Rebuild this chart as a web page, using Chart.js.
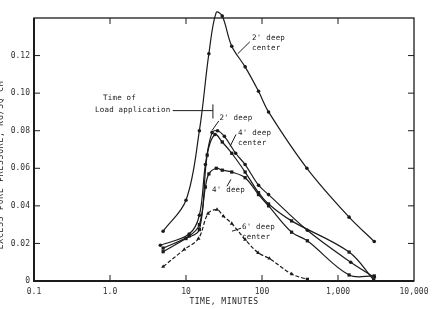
<!DOCTYPE html>
<html>
<head>
<meta charset="utf-8">
<script src="https://cdn.jsdelivr.net/npm/chart.js@4.4.1/dist/chart.umd.min.js"></script>
<style>
  html, body { margin: 0; padding: 0; background: #fff; }
</style>
</head>
<body>
<canvas id="poreChart" width="447" height="309"></canvas>
<script>
// axis ticks
const xTicks = [0.1, 1, 10, 100, 1000, 10000];
const xTickLabels = ["0.1", "1.0", "10", "100", "1,000", "10,000"];
const yTicks = [0, 0.02, 0.04, 0.06, 0.08, 0.10, 0.12];
const yTickLabels = ["0", "0.02", "0.04", "0.06", "0.08", "0.10", "0.12"];

// [time in minutes, excess pore pressure]
const deep2Center = [[5, 0.0265], [10, 0.043], [15, 0.080], [20, 0.121], [25, 0.143], [30, 0.141],
  [40, 0.125], [60, 0.114], [90, 0.101], [122, 0.090], [390, 0.060], [1400, 0.034], [3000, 0.021]];
const deep2 = [[4.6, 0.019], [11, 0.025], [15, 0.035], [18, 0.062], [22, 0.079], [26, 0.080], [32, 0.077],
  [45, 0.068], [60, 0.062], [90, 0.051], [122, 0.046], [395, 0.027], [1470, 0.010], [3000, 0.002]];
const deep4Center = [[5, 0.0156], [10, 0.0226], [15, 0.0274], [19, 0.067], [24, 0.078], [30, 0.074],
  [40, 0.068], [60, 0.058], [90, 0.047], [122, 0.041], [245, 0.032], [1400, 0.0154], [2950, 0.0005]];
const deep4 = [[5, 0.0175], [11, 0.024], [15, 0.030], [18, 0.050], [20, 0.057], [25, 0.060], [30, 0.059],
  [40, 0.058], [60, 0.055], [90, 0.046], [122, 0.040], [245, 0.026], [395, 0.0214], [1400, 0.0032], [3000, 0.0027]];
const deep6Center = [[5, 0.0076], [9.5, 0.0168], [14.6, 0.0226], [19.5, 0.0359], [25.6, 0.038], [31, 0.0345],
  [40, 0.0306], [60, 0.0221], [89, 0.015], [125, 0.012], [246, 0.0037], [395, 0.0009]];

// curve labels and leaders, placed in data units
const notes = [
  { text: ["2' deep", "center"], t: 74, v: 0.1294, lead: [[69, 0.1273], [48, 0.121]] },
  { text: ["Time of"], t: 0.81, v: 0.0976 },
  { text: ["Load application"], t: 0.635, v: 0.0912, lead: [[6.7, 0.0907], [22.6, 0.0907]] },
  { text: ["2' deep"], t: 27.5, v: 0.0868, lead: [[27, 0.0852], [22, 0.0801]] },
  { text: ["4' deep", "center"], t: 48.5, v: 0.0788, lead: [[45.5, 0.078], [38, 0.0716]] },
  { text: ["4' deep"], t: 22, v: 0.0483, lead: [[34.6, 0.0504], [39, 0.0541]] },
  { text: ["6' deep", "center"], t: 54.5, v: 0.0286, lead: [[53, 0.0281], [40.3, 0.0265]] }
];
const loadTime = 22.6;

const ink = "#1b1b1b";
const mono = "'DejaVu Sans Mono', monospace";

function toXY(arr) { return arr.map(p => ({ x: p[0], y: p[1] })); }

function curve(arr, style, size, dash) {
  return {
    data: toXY(arr),
    showLine: true,
    borderColor: ink,
    backgroundColor: ink,
    borderWidth: 1.2,
    borderDash: dash || [],
    tension: 0.35,
    pointStyle: style,
    pointRadius: size,
    pointBorderWidth: 0,
    clip: false
  };
}

const e6 = curve(deep6Center, deep6Center.map((_, i) => i === deep6Center.length - 1 ? "rect" : "triangle"), 2.3, [4, 2]);

const decor = {
  id: "decor",
  afterDraw(chart) {
    const c = chart.ctx;
    const a = chart.chartArea;
    const xs = chart.scales.x;
    const ys = chart.scales.y;
    c.save();
    c.strokeStyle = ink;
    c.lineWidth = 1.3;
    c.strokeRect(a.left, a.top, a.right - a.left, a.bottom - a.top);
    c.lineWidth = 2;
    c.beginPath();
    c.moveTo(a.left, a.top); c.lineTo(a.left, a.bottom); c.lineTo(a.right, a.bottom);
    c.stroke();
    c.lineWidth = 1;
    c.beginPath();
    xTicks.slice(1, -1).forEach(v => {
      const px = xs.getPixelForValue(v);
      c.moveTo(px, a.bottom); c.lineTo(px, a.bottom - 6);
      c.moveTo(px, a.top); c.lineTo(px, a.top + 6);
    });
    yTicks.slice(1).forEach(v => {
      const py = ys.getPixelForValue(v);
      c.moveTo(a.left, py); c.lineTo(a.left + 6, py);
      c.moveTo(a.right, py); c.lineTo(a.right - 6, py);
    });
    c.stroke();

    // load application marker
    const lx = xs.getPixelForValue(loadTime);
    c.beginPath();
    c.moveTo(lx, ys.getPixelForValue(0.094)); c.lineTo(lx, ys.getPixelForValue(0.0865));
    c.stroke();

    c.fillStyle = ink;
    c.font = "7.5px " + mono;
    c.letterSpacing = "0.2px";
    c.textBaseline = "middle";
    notes.forEach(n => {
      const x = xs.getPixelForValue(n.t);
      const y = ys.getPixelForValue(n.v);
      n.text.forEach((s, i) => c.fillText(s, x, y + i * 10));
      if (n.lead) {
        c.beginPath();
        n.lead.forEach((p, i) => {
          const px = xs.getPixelForValue(p[0]);
          const py = ys.getPixelForValue(p[1]);
          if (i === 0) c.moveTo(px, py); else c.lineTo(px, py);
        });
        c.stroke();
      }
    });

    c.font = "8px " + mono;
    c.letterSpacing = "0.5px";
    c.textAlign = "center";
    c.fillText("TIME, MINUTES", (a.left + a.right) / 2, 302);
    c.translate(0.5, 165);
    c.rotate(-Math.PI / 2);
    c.letterSpacing = "0.8px";
    c.fillText("EXCESS PORE PRESSURE, KG/SQ CM", 0, 0);
    c.restore();
  }
};

new Chart(document.getElementById("poreChart"), {
  type: "scatter",
  data: {
    datasets: [
      curve(deep2Center, "circle", 1.8),
      curve(deep2, "circle", 1.8),
      curve(deep4Center, "rect", 2.3),
      curve(deep4, "rect", 2.3),
      e6
    ]
  },
  options: {
    responsive: false,
    animation: false,
    devicePixelRatio: 1,
    layout: { padding: { top: 18, right: 33, left: 0, bottom: 0 } },
    plugins: {
      legend: { display: false },
      tooltip: { enabled: false }
    },
    scales: {
      x: {
        type: "logarithmic",
        min: 0.1,
        max: 10000,
        afterBuildTicks: s => { s.ticks = xTicks.map(v => ({ value: v })); },
        afterFit: s => { s.height = 28; },
        grid: { drawOnChartArea: false, drawTicks: false },
        border: { display: false },
        ticks: {
          autoSkip: false,
          maxRotation: 0,
          padding: 6,
          color: "#333",
          font: { family: mono, size: 8 },
          callback: v => xTickLabels[xTicks.indexOf(v)]
        }
      },
      y: {
        min: 0,
        max: 0.14,
        afterBuildTicks: s => { s.ticks = yTicks.map(v => ({ value: v })); },
        afterFit: s => { s.width = 34; },
        grid: { drawOnChartArea: false, drawTicks: false },
        border: { display: false },
        ticks: {
          padding: 4,
          color: "#333",
          font: { family: mono, size: 8 },
          callback: (v, i) => yTickLabels[i]
        }
      }
    }
  },
  plugins: [decor]
});
</script>
</body>
</html>
